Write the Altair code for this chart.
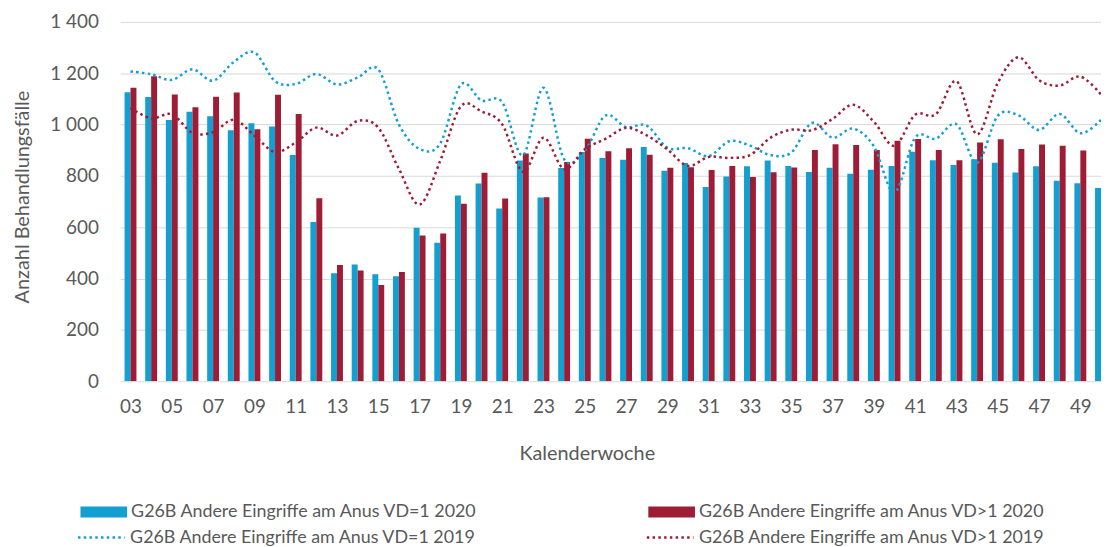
import altair as alt
import pandas as pd

weeks = list(range(3, 51))

S_B20 = "G26B Andere Eingriffe am Anus VD=1 2020"
S_R20 = "G26B Andere Eingriffe am Anus VD>1 2020"
S_B19 = "G26B Andere Eingriffe am Anus VD=1 2019"
S_R19 = "G26B Andere Eingriffe am Anus VD>1 2019"

vd1_2020 = [1126, 1107, 1018, 1050, 1032, 978, 1005, 992, 881, 620, 421, 455,
            417, 409, 598, 540, 724, 770, 673, 860, 716, 831, 893, 870,
            863, 913, 820, 850, 757, 798, 838, 860, 839, 815, 832, 808,
            824, 839, 894, 861, 842, 865, 851, 813, 838, 781, 771, 753]
vdg1_2020 = [1143, 1188, 1117, 1067, 1108, 1125, 982, 1116, 1041, 713, 453, 431,
             375, 426, 568, 576, 691, 812, 712, 887, 717, 854, 945, 896,
             908, 882, 832, 834, 823, 839, 796, 814, 833, 901, 923, 920,
             901, 937, 944, 901, 861, 930, 943, 905, 922, 917, 899, 807]
vd1_2019 = [1207, 1196, 1174, 1215, 1171, 1244, 1281, 1169, 1158, 1197, 1156, 1183,
            1215, 1000, 905, 926, 1156, 1094, 1087, 880, 1143, 865, 898, 1035,
            990, 996, 910, 908, 877, 935, 918, 881, 891, 1006, 949, 984,
            915, 735, 949, 945, 1001, 851, 1034, 1036, 979, 1041, 966, 1018]
vdg1_2019 = [1065, 1024, 1040, 968, 970, 1019, 957, 893, 930, 988, 957, 1014,
             988, 827, 688, 859, 1071, 1051, 1001, 816, 949, 826, 904, 944,
             987, 958, 903, 839, 874, 870, 881, 949, 980, 978, 1022, 1077,
             1011, 917, 1038, 1040, 1169, 962, 1162, 1262, 1173, 1152, 1187, 1117]

x_ticks = list(range(3, 50, 2))
y_ticks = list(range(0, 1401, 200))

BLUE = "#13A0D0"
RED = "#9E1D36"
GRID = "#D9D9D9"
TXT = "#595959"
FONT = "Lato"
BW = 0.288

bars_df = pd.DataFrame({
    "week": weeks * 2,
    "value": vd1_2020 + vdg1_2020,
    "series": [S_B20] * len(weeks) + [S_R20] * len(weeks),
})
lines_df = pd.DataFrame({
    "week": weeks * 2,
    "value": vd1_2019 + vdg1_2019,
    "series": [S_B19] * len(weeks) + [S_R19] * len(weeks),
})

x_scale = alt.Scale(domain=[2.5, 50.0], nice=False, zero=False)
y_scale = alt.Scale(domain=[0, 1400], nice=False)

x_axis = alt.Axis(
    values=x_ticks,
    labelExpr="(datum.value < 10 ? '0' : '') + datum.value",
    grid=False, ticks=False, tickSize=0, domain=False,
    labelFont=FONT, labelFontSize=19, labelColor=TXT, labelPadding=16,
    labelFlush=False, labelOverlap=False,
    title="Kalenderwoche", titleFont=FONT, titleFontSize=20, titleColor=TXT,
    titleFontWeight="normal", titleX=470, titleY=73, titleAlign="center",
    titleBaseline="middle",
)
y_axis = alt.Axis(
    values=y_ticks,
    labelExpr="replace(format(datum.value, ','), ',', ' ')",
    grid=True, gridColor=GRID, gridWidth=1, ticks=False, tickSize=0, domain=False,
    labelFont=FONT, labelFontSize=19, labelColor=TXT, labelPadding=22,
    title="Anzahl Behandlungsfälle", titleFont=FONT, titleFontSize=20,
    titleColor=TXT, titleFontWeight="normal", titleAngle=270,
    titleX=-98, titleY=176, titleAlign="center", titleBaseline="middle",
)

common_legend = dict(
    orient="none", direction="horizontal", columns=2,
    labelFont=FONT, labelFontSize=18, labelColor=TXT, labelLimit=700,
    labelOffset=4, title=None, padding=0, symbolSize=2209,
)

bars = alt.Chart(bars_df).transform_calculate(
    x0=f"datum.series == '{S_B20}' ? datum.week - {BW} : datum.week"
).transform_calculate(
    x1=f"datum.x0 + {BW}"
).mark_bar(clip=True).encode(
    x=alt.X("x0:Q", scale=x_scale, axis=x_axis),
    x2="x1:Q",
    y=alt.Y("value:Q", scale=y_scale, axis=y_axis),
    y2=alt.datum(0),
    fill=alt.Fill(
        "series:N",
        scale=alt.Scale(domain=[S_B20, S_R20], range=[BLUE, RED]),
        legend=alt.Legend(
            legendX=-40,
            legendY=470,
            columnPadding=171,
            symbolType="M-1,-0.234H1V0.234H-1Z",
            symbolStrokeWidth=0,
            **common_legend,
        ),
    ),
)

lines = alt.Chart(lines_df).mark_line(
    clip=True, interpolate="cardinal", strokeWidth=2.5, strokeDash=[2.5, 3.3]
).encode(
    x=alt.X("week:Q", scale=x_scale, axis=x_axis),
    y=alt.Y("value:Q", scale=y_scale, axis=y_axis),
    stroke=alt.Stroke(
        "series:N",
        scale=alt.Scale(domain=[S_B19, S_R19], range=[BLUE, RED]),
        legend=alt.Legend(
            legendX=-44,
            legendY=494.5,
            columnPadding=165,
            symbolType="stroke",
            symbolStrokeWidth=2.5,
            symbolDash=[2.5, 3.3],
            **common_legend,
        ),
    ),
)

chart = alt.layer(bars, lines).properties(
    width=988,
    height=362,
    autosize=alt.AutoSizeParams(type="none"),
    padding={"left": 113, "top": 12, "right": 0, "bottom": 165},
    background="white",
).configure_view(stroke=None)

chart.save("out.html", embed_options={"renderer": "svg", "actions": False})
